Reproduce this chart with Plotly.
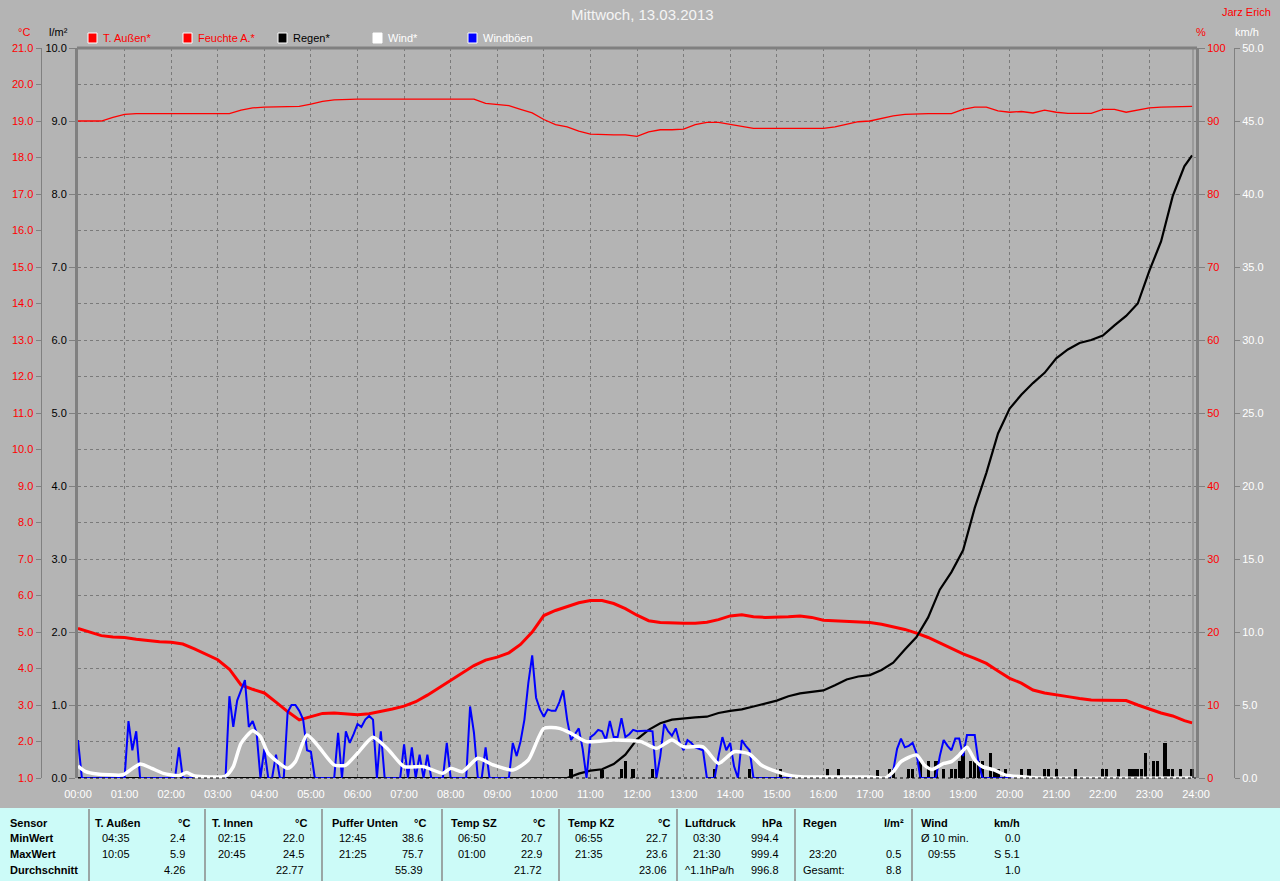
import plotly.graph_objects as go

# ---------------- DATA ----------------
TITLE = "Mittwoch, 13.03.2013"
AUTHOR = "Jarz Erich"

# 15-minute samples 00:00 ... 23:45 plus last sample 23:55
temp_aussen = [
    5.10, 5.00, 4.90, 4.86,   # 00
    4.85, 4.80, 4.76, 4.73,   # 01
    4.72, 4.67, 4.54, 4.40,   # 02
    4.24, 3.98, 3.55, 3.43,   # 03
    3.33, 3.08, 2.82, 2.59,   # 04
    2.69, 2.77, 2.78, 2.76,   # 05
    2.73, 2.76, 2.82, 2.89,   # 06
    2.97, 3.09, 3.27, 3.47,   # 07
    3.67, 3.88, 4.08, 4.23,   # 08
    4.31, 4.43, 4.66, 5.00,   # 09
    5.45, 5.59, 5.69, 5.80,   # 10
    5.86, 5.86, 5.78, 5.64,   # 11
    5.46, 5.31, 5.26, 5.24,   # 12
    5.24, 5.24, 5.27, 5.34,   # 13
    5.44, 5.47, 5.42, 5.40,   # 14
    5.40, 5.42, 5.44, 5.40,   # 15
    5.32, 5.30, 5.30, 5.28,   # 16
    5.26, 5.21, 5.15, 5.07,   # 17
    4.97, 4.85, 4.70, 4.54,   # 18
    4.40, 4.28, 4.14, 3.93,   # 19
    3.73, 3.60, 3.41, 3.33,   # 20
    3.29, 3.23, 3.18, 3.14,   # 21
    3.13, 3.12, 3.12, 3.00,   # 22
    2.88, 2.78, 2.70, 2.57,   # 23
    2.51,
]

feuchte_aussen = [
    90.0, 90.0, 90.0, 90.5,
    90.9, 91.0, 91.0, 91.0,
    91.0, 91.0, 91.0, 91.0,
    91.0, 91.0, 91.5, 91.8,
    91.9, 91.9, 91.9, 92.0,
    92.3, 92.7, 92.9, 93.0,
    93.0, 93.0, 93.0, 93.0,
    93.0, 93.0, 93.0, 93.0,
    93.0, 93.0, 93.0, 92.4,
    92.2, 92.1, 91.6, 91.1,
    90.2, 89.5, 89.2, 88.6,
    88.2, 88.1, 88.1, 88.1,
    87.9, 88.5, 88.8, 88.8,
    88.9, 89.5, 89.8, 89.8,
    89.5, 89.2, 89.0, 89.0,
    89.0, 89.0, 89.0, 89.0,
    89.0, 89.2, 89.6, 89.9,
    90.0, 90.4, 90.7, 90.9,
    91.0, 91.0, 91.0, 91.0,
    91.6, 91.9, 91.9, 91.4,
    91.2, 91.3, 91.1, 91.5,
    91.2, 91.05, 91.05, 91.05,
    91.6, 91.6, 91.2, 91.5,
    91.8, 91.9, 91.9, 91.9,
    92.0,
]

regen_summe = [
    0, 0, 0, 0,  0, 0, 0, 0,  0, 0, 0, 0,  0, 0, 0, 0,  0, 0, 0, 0,
    0, 0, 0, 0,  0, 0, 0, 0,  0, 0, 0, 0,  0, 0, 0, 0,  0, 0, 0, 0,
    0.00, 0.00, 0.00, 0.06,   # 10
    0.10, 0.12, 0.19, 0.32,   # 11
    0.53, 0.66, 0.75, 0.80,   # 12
    0.82, 0.83, 0.84, 0.89,   # 13
    0.92, 0.94, 0.98, 1.02,   # 14
    1.06, 1.12, 1.16, 1.18,   # 15
    1.20, 1.27, 1.35, 1.39,   # 16
    1.41, 1.48, 1.58, 1.76,   # 17
    1.93, 2.20, 2.58, 2.82,   # 18
    3.12, 3.70, 4.18, 4.72,   # 19
    5.06, 5.25, 5.41, 5.55,   # 20
    5.75, 5.87, 5.96, 6.00,   # 21
    6.06, 6.20, 6.33, 6.50,   # 22
    6.95, 7.35, 7.97, 8.38,   # 23
    8.53,
]

# rain amount per 5-minute interval (bars)
regen_zeit = ["10:35", "11:15", "11:40", "11:45", "11:55", "12:20", "13:40", "14:25",
              "15:05", "16:05", "16:20", "17:10", "17:25", "17:30", "17:50", "17:55",
              "18:05", "18:15", "18:25", "18:35", "18:45", "18:50", "18:55", "19:00",
              "19:10", "19:15", "19:20", "19:25", "19:35", "19:40", "19:45", "19:55",
              "20:15", "20:25", "20:45", "20:50", "21:00", "21:25", "22:00", "22:05",
              "22:20", "22:35", "22:40", "22:45", "22:50", "22:55", "23:05", "23:10",
              "23:20", "23:25", "23:30", "23:40", "23:55"]
regen_menge = [0.12, 0.11, 0.12, 0.23, 0.12, 0.12, 0.12, 0.12,
               0.12, 0.12, 0.12, 0.11, 0.12, 0.12, 0.12, 0.12,
               0.23, 0.23, 0.23, 0.12, 0.12, 0.12, 0.23, 0.34,
               0.23, 0.23, 0.23, 0.23, 0.34, 0.12, 0.12, 0.12,
               0.12, 0.12, 0.12, 0.12, 0.12, 0.12, 0.12, 0.12,
               0.12, 0.12, 0.12, 0.12, 0.12, 0.34, 0.23, 0.23,
               0.48, 0.12, 0.12, 0.12, 0.12]

# wind gusts, 5-minute samples (12 per hour)
windboeen = [
    2.6, 0, 0, 0, 0, 0, 0, 0, 0, 0, 0, 0,                        # 00
    0, 3.9, 1.9, 3.2, 0, 0, 0, 0, 0, 0, 0, 0,                    # 01
    0, 0, 2.1, 0, 0, 0, 0, 0, 0, 0, 0, 0,                        # 02
    0, 0, 0, 5.6, 3.5, 5.3, 6.0, 6.7, 3.5, 3.9, 3.1, 0,          # 03
    2.0, 0, 0, 1.6, 0, 0, 4.5, 5.0, 5.0, 4.6, 4.0, 1.9,          # 04
    1.8, 0, 0, 0, 0, 0, 0, 3.1, 0, 3.2, 2.4, 3.0,                # 05
    3.7, 3.5, 4.0, 4.25, 4.0, 0, 3.2, 0, 0, 0, 0, 0,             # 06
    2.3, 0, 2.1, 0, 1.6, 0, 1.6, 0, 0, 0, 0, 2.4,                # 07
    0, 0, 0, 0, 0, 4.9, 3.1, 0, 0, 2.1, 0, 0,                    # 08
    0, 0, 0, 0, 2.4, 1.5, 2.5, 4.0, 6.5, 8.4, 5.5, 4.7,          # 09
    4.2, 4.7, 4.6, 4.6, 5.2, 6.0, 4.0, 2.6, 3.0, 3.4, 2.0, 0,    # 10
    2.8, 3.0, 3.3, 3.2, 2.6, 3.9, 2.8, 2.8, 4.1, 2.8, 3.0, 3.3,  # 11
    3.2, 3.24, 3.24, 3.24, 3.2, 0, 1.5, 3.7, 3.2, 2.9, 3.4, 2.4, # 12
    1.9, 2.6, 2.4, 2.1, 2.0, 1.9, 0, 0, 0, 1.5, 2.8, 1.9,        # 13
    2.4, 0.8, 0, 2.6, 2.2, 1.9, 0, 0, 0, 0, 0, 0,                # 14
    0, 0, 0, 0, 0, 0, 0, 0, 0, 0, 0, 0,                          # 15
    0, 0, 0, 0, 0, 0, 0, 0, 0, 0, 0, 0,                          # 16
    0, 0, 0, 0, 0, 0, 0.5, 2.0, 2.7, 2.1, 2.2, 2.4,              # 17
    1.7, 0, 0, 0, 0, 0, 1.5, 2.6, 2.2, 1.9, 2.7, 2.7,            # 18
    1.5, 2.94, 2.94, 2.94, 1.0, 0, 0, 0, 0, 0, 0, 0,             # 19
    0, 0, 0, 0, 0, 0, 0, 0, 0, 0, 0, 0,                          # 20
    0, 0, 0, 0, 0, 0, 0, 0, 0, 0, 0, 0,                          # 21
    0, 0, 0, 0, 0, 0, 0, 0, 0, 0, 0, 0,                          # 22
    0, 0, 0, 0, 0, 0, 0, 0, 0, 0, 0, 0,                          # 23
]

# mean wind (smooth curve) read at its turning points
wind_zeit = ["00:00", "00:10", "00:25", "00:55", "01:00", "01:20", "01:35", "01:50",
             "02:10", "02:20", "02:30", "03:10", "03:20", "03:30", "03:45", "03:55",
             "04:05", "04:30", "04:40", "04:55", "05:10", "05:30", "05:45", "06:00",
             "06:20", "06:40", "07:00", "07:25", "07:50", "08:00", "08:15", "08:35",
             "08:55", "09:20", "09:40", "10:00", "10:20", "10:35", "10:55", "11:30",
             "12:05", "12:25", "12:45", "13:00", "13:25", "13:45", "14:05", "14:25",
             "14:40", "15:00", "15:20", "15:35", "17:00", "17:20", "17:30", "17:40",
             "18:00", "18:10", "18:20", "18:35", "18:45", "18:55", "19:05", "19:15",
             "19:25", "19:40", "19:55", "20:20", "20:40", "23:55"]
wind_wert = [0.82, 0.43, 0.27, 0.20, 0.27, 0.96, 0.66, 0.32,
             0.16, 0.37, 0.14, 0.14, 0.78, 2.37, 3.24, 2.83,
             1.69, 0.66, 1.12, 2.94, 2.14, 0.89, 0.89, 1.69,
             2.79, 1.92, 0.78, 0.78, 0.32, 0.66, 0.43, 1.35,
             0.89, 0.55, 1.23, 3.40, 3.40, 3.06, 2.49, 2.60,
             2.49, 2.03, 2.60, 2.14, 2.14, 1.00, 1.80, 1.64,
             0.89, 0.43, 0.14, 0.07, 0.07, 0.00, 0.43, 1.12,
             1.58, 0.89, 0.59, 1.00, 1.12, 1.58, 2.10, 1.23,
             0.78, 0.55, 0.20, 0.07, 0.00, 0.00]

hour_labels = [f"{h:02d}:00" for h in range(25)]

legend_items = [("T. Außen*", "#FF0000", "#FF0000"),
                ("Feuchte A.*", "#FF0000", "#FF0000"),
                ("Regen*", "#000000", "#000000"),
                ("Wind*", "#FFFFFF", "#FFFFFF"),
                ("Windböen", "#0000FF", "#FFFFFF")]

table_rows = ["Sensor", "MinWert", "MaxWert", "Durchschnitt"]
table_cols = [
    ("T. Außen", "°C", [("04:35", "2.4"), ("10:05", "5.9"), ("", "4.26")]),
    ("T. Innen", "°C", [("02:15", "22.0"), ("20:45", "24.5"), ("", "22.77")]),
    ("Puffer Unten", "°C", [("12:45", "38.6"), ("21:25", "75.7"), ("", "55.39")]),
    ("Temp SZ", "°C", [("06:50", "20.7"), ("01:00", "22.9"), ("", "21.72")]),
    ("Temp KZ", "°C", [("06:55", "22.7"), ("21:35", "23.6"), ("", "23.06")]),
    ("Luftdruck", "hPa", [("03:30", "994.4"), ("21:30", "999.4"), ("^1.1hPa/h", "996.8")]),
    ("Regen", "l/m²", [("", ""), ("23:20", "0.5"), ("Gesamt:", "8.8")]),
    ("Wind", "km/h", [("Ø 10 min.", "0.0"), ("09:55", "S 5.1"), ("", "1.0")]),
]

# ---------------- LAYOUT HELPERS ----------------
W, H = 1280, 881
FONT = "Liberation Sans, Arial, sans-serif"
GRID = "#7A7A7A"
AXIS = "#808080"
BG = "#B4B4B4"


def px(x):
    return x / W


def py(y):
    return 1 - y / H


def hm(s):
    h, m = s.split(":")
    return int(h) + int(m) / 60


def text(txt, x, y, color="#000000", size=11, xanchor="center"):
    return dict(text=txt, x=px(x), y=py(y), xref="paper", yref="paper",
                xanchor=xanchor, yanchor="middle", showarrow=False,
                font=dict(family=FONT, size=size, color=color))


t15 = [i * 0.25 for i in range(96)] + [hm("23:55")]
t5 = [i / 12 for i in range(288)]
assert len(temp_aussen) == len(t15) == len(feuchte_aussen) == len(regen_summe)
assert len(windboeen) == 288
assert len(regen_zeit) == len(regen_menge)
assert len(wind_zeit) == len(wind_wert)

fig = go.Figure()
fig.add_trace(go.Scatter(x=t5, y=windboeen, mode="lines", yaxis="y4", cliponaxis=False,
                         line=dict(color="#0000FF", width=2)))
fig.add_trace(go.Scatter(x=[hm(s) for s in wind_zeit], y=wind_wert, mode="lines",
                         yaxis="y4",
                         line=dict(color="#FFFFFF", width=3.5, shape="spline", smoothing=0.6)))
fig.add_trace(go.Bar(x=[hm(s) for s in regen_zeit], y=regen_menge, width=0.07,
                     yaxis="y2", marker=dict(color="#000000", line=dict(width=0))))
fig.add_trace(go.Scatter(x=t15, y=regen_summe, mode="lines", yaxis="y2", cliponaxis=False,
                         line=dict(color="#000000", width=2.2)))
fig.add_trace(go.Scatter(x=t15, y=feuchte_aussen, mode="lines", yaxis="y3",
                         line=dict(color="#FF0000", width=1.3)))
fig.add_trace(go.Scatter(x=t15, y=temp_aussen, mode="lines", yaxis="y",
                         line=dict(color="#FF0000", width=3)))

common_y = dict(zeroline=False, automargin=False, fixedrange=True)

fig.update_layout(
    width=W, height=H, autosize=False,
    margin=dict(l=0, r=0, t=0, b=0, pad=0),
    paper_bgcolor=BG, plot_bgcolor=BG,
    showlegend=False, bargap=0,
    xaxis=dict(domain=[px(78), px(1196)], range=[0, 24],
               tickvals=list(range(25)), ticktext=hour_labels,
               showgrid=True, gridcolor=GRID, griddash="3px,3px", gridwidth=1,
               showline=False, zeroline=False, ticks="", ticklabelstandoff=8,
               tickfont=dict(family=FONT, size=11, color="#FFFFFF"),
               automargin=False, fixedrange=True),
    yaxis=dict(domain=[py(778), py(48)], range=[1, 21], tick0=1, dtick=1,
               tickformat=".1f", anchor="free", position=px(40.5), side="left",
               showline=True, linecolor=AXIS, linewidth=1,
               ticks="outside", ticklen=5, tickcolor=AXIS,
               showgrid=True, gridcolor=GRID, griddash="3px,3px", gridwidth=1,
               tickfont=dict(family=FONT, size=11, color="#FF0000"), **common_y),
    yaxis2=dict(overlaying="y", anchor="x", side="left", range=[0, 10], dtick=1,
                tickformat=".1f", showgrid=False, showline=True, linecolor=AXIS,
                linewidth=3, ticks="outside", ticklen=6, tickcolor=AXIS,
                tickfont=dict(family=FONT, size=11, color="#000000"), **common_y),
    yaxis3=dict(overlaying="y", anchor="x", side="right", range=[0, 100], dtick=10,
                showgrid=False, showline=True, linecolor=AXIS, linewidth=3,
                ticks="outside", ticklen=6, tickcolor=AXIS,
                tickfont=dict(family=FONT, size=11, color="#FF0000"), **common_y),
    yaxis4=dict(overlaying="y", anchor="free", position=px(1234), side="right",
                range=[0, 50], dtick=5, tickformat=".1f", showgrid=False,
                showline=True, linecolor=AXIS, linewidth=1,
                ticks="outside", ticklen=5, tickcolor=AXIS,
                tickfont=dict(family=FONT, size=11, color="#FFFFFF"), **common_y),
)

shapes = []
annotations = []

# plot frame: top border, inner right line and bottom baseline
shapes.append(dict(type="line", xref="paper", yref="paper", x0=px(77), x1=px(1197),
                   y0=py(48), y1=py(48), line=dict(color=AXIS, width=3)))
shapes.append(dict(type="line", xref="paper", yref="paper", x0=px(78), x1=px(1196),
                   y0=py(778), y1=py(778), line=dict(color="#000000", width=1, dash="dot")))
shapes.append(dict(type="line", xref="paper", yref="paper", x0=px(1193), x1=px(1193),
                   y0=py(48), y1=py(778), line=dict(color=AXIS, width=1)))

# title, author, units
annotations.append(text(TITLE, 642, 15, "#F4F4F4", 15))
annotations.append(text(AUTHOR, 1273, 12, "#FF0000", 11, "right"))
for txt, xc, col in [("°C", 24, "#FF0000"), ("l/m²", 58, "#000000"),
                     ("%", 1201, "#FF0000"), ("km/h", 1247, "#FFFFFF")]:
    annotations.append(text(txt, xc, 32, col))

# legend
for i, (name, fill, tcol) in enumerate(legend_items):
    x0 = 88 + 95 * i
    shapes.append(dict(type="rect", xref="paper", yref="paper", x0=px(x0), x1=px(x0 + 9),
                       y0=py(43), y1=py(33), fillcolor=fill,
                       line=dict(color="#FFFFFF", width=1)))
    annotations.append(text(name, x0 + 13, 38, tcol, 11, "left"))

# bottom table
shapes.append(dict(type="rect", xref="paper", yref="paper", x0=0, x1=1, y0=0, y1=py(808),
                   fillcolor="#CCFBF8", line=dict(width=0), layer="below"))
for xs in [89, 205, 322, 442, 559, 677, 795, 912]:
    shapes.append(dict(type="line", xref="paper", yref="paper", x0=px(xs), x1=px(xs),
                       y0=0, y1=py(809), line=dict(color="#8A8A8A", width=1.5)))

row_y = [823, 838, 854, 870]
for r, txt in enumerate(table_rows):
    annotations.append(text(f"<b>{txt}</b>", 8, row_y[r], xanchor="left"))

col_pos = [  # title x, time x, unit right, value right
    (93, 100, 192, 187), (210, 216, 309, 306), (330, 337, 428, 425),
    (449, 456, 547, 544), (566, 573, 672, 669), (683, 691, 785, 781),
    (801, 807, 906, 903), (919, 926, 1022, 1022),
]
for (title, unit, rows), (tx, tmx, ur, vr) in zip(table_cols, col_pos):
    annotations.append(text(f"<b>{title}</b>", tx, row_y[0], xanchor="left"))
    annotations.append(text(f"<b>{unit}</b>", ur, row_y[0], xanchor="right"))
    for r, (tm, val) in enumerate(rows):
        if tm:
            xl = tx if (tm.startswith("^") or tm.startswith("Gesamt") or tm.startswith("Ø")) else tmx
            annotations.append(text(tm, xl, row_y[r + 1], xanchor="left"))
        if val:
            annotations.append(text(val, vr, row_y[r + 1], xanchor="right"))

fig.update_layout(shapes=shapes, annotations=annotations)
fig.write_html("out.html", config={"displayModeBar": False, "responsive": False},
               post_script="document.body.style.margin='0';document.body.style.overflow='hidden';")
